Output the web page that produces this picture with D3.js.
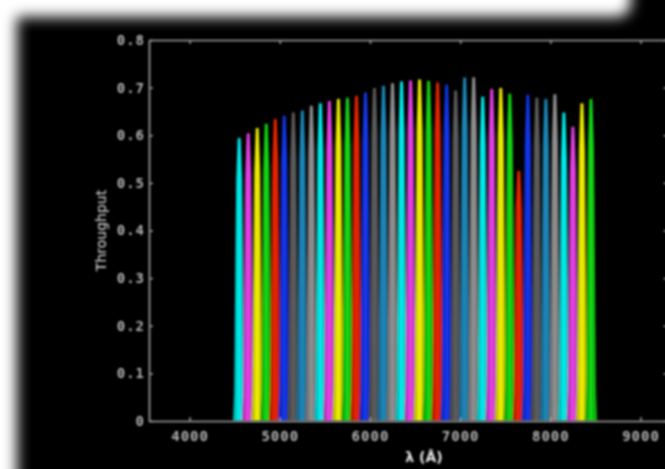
<!DOCTYPE html>
<html>
<head>
<meta charset="utf-8">
<script src="https://cdn.jsdelivr.net/npm/d3@7/dist/d3.min.js"></script>
<style>
  html, body { margin: 0; padding: 0; background: #000; }
  svg { display: block; }
</style>
</head>
<body>
<svg id="chart" width="665" height="469"></svg>
<script>
// Narrow-band filter set: central wavelengths (Å) and peak throughputs
const filterCenters = [
  4550, 4650, 4750, 4850, 4950, 5050, 5150, 5250, 5350, 5450,
  5550, 5650, 5750, 5850, 5950, 6050, 6150, 6250, 6350, 6450,
  6550, 6650, 6750, 6850, 6950, 7050, 7150, 7250, 7350, 7450,
  7550, 7650, 7750, 7850, 7950, 8050, 8150, 8250, 8350, 8450
];
const filterPeaks = [
  0.594, 0.604, 0.615, 0.624, 0.634, 0.641, 0.648, 0.652, 0.662, 0.667,
  0.672, 0.676, 0.679, 0.683, 0.690, 0.699, 0.704, 0.709, 0.713, 0.715,
  0.717, 0.714, 0.711, 0.706, 0.694, 0.721, 0.722, 0.681, 0.697, 0.699,
  0.687, 0.525, 0.685, 0.679, 0.676, 0.686, 0.648, 0.618, 0.667, 0.676
];
// Shape of a single passband: offsets from the centre (Å) and fraction of the peak
const profileOffsets   = [-70, -56, -50, -42, -34, -16, 16, 34, 42, 50, 56, 70];
const profileFractions = [0, 0.1, 0.3, 0.6, 0.85, 1, 1, 0.85, 0.6, 0.3, 0.1, 0];

const xTicks = [4000, 5000, 6000, 7000, 8000, 9000];
const yTicks = [0, 0.1, 0.2, 0.3, 0.4, 0.5, 0.6, 0.7, 0.8];

const palette = ["#00e6e6", "#e23ee2", "#eaea00", "#12d212", "#e42400",
                 "#1234e6", "#5a5a5a", "#1c84b4", "#8c8c8c"];

const svg = d3.select("#chart");
const W = 665, H = 469;

const x = d3.scaleLinear().domain([3550, 9300]).range([149, 667.6]);
const y = d3.scaleLinear().domain([0, 0.8]).range([421, 40]);

const defs = svg.append("defs");
defs.append("filter").attr("id", "soft")
  .attr("x", "-5%").attr("y", "-5%").attr("width", "110%").attr("height", "110%")
  .append("feGaussianBlur").attr("stdDeviation", 0.9);
defs.append("filter").attr("id", "softBars")
  .attr("x", "-5%").attr("y", "-5%").attr("width", "110%").attr("height", "110%")
  .append("feGaussianBlur").attr("stdDeviation", 1.1);
defs.append("filter").attr("id", "glow")
  .attr("x", "-50%").attr("y", "-50%").attr("width", "200%").attr("height", "200%")
  .append("feGaussianBlur").attr("stdDeviation", 7);

// tube-like shading: each band is brightest along its centre
palette.forEach((col, j) => {
  const g = defs.append("linearGradient").attr("id", "band" + j)
    .attr("x1", 0).attr("x2", 1).attr("y1", 0).attr("y2", 0);
  const c = d3.color(col);
  [[0, c.darker(1.0)], [0.3, c.darker(0.3)], [0.5, c.brighter(0.15)],
   [0.7, c.darker(0.3)], [1, c.darker(1.0)]].forEach(([o, s]) => {
    g.append("stop").attr("offset", o).attr("stop-color", s.formatHex());
  });
});

// black canvas
svg.append("rect").attr("width", W).attr("height", H).attr("fill", "#000");

// light window border around the top-left of the panel
const frame = svg.append("g").attr("filter", "url(#glow)");
frame.append("rect").attr("x", -60).attr("y", -60).attr("width", 60 + 631).attr("height", 60 + 17).attr("rx", 14).attr("fill", "#fff");
frame.append("rect").attr("x", -60).attr("y", -60).attr("width", 60 + 17).attr("height", 700).attr("fill", "#fff");

// filter passbands
const bars = svg.append("g").attr("filter", "url(#softBars)");
const area = d3.area()
  .x(d => x(d[0]))
  .y0(y(0))
  .y1(d => y(d[1]));
filterCenters.forEach((c, i) => {
  const pts = profileOffsets.map((o, k) => [c + o, filterPeaks[i] * profileFractions[k]]);
  bars.append("path")
    .attr("d", area(pts))
    .attr("fill", `url(#band${i % palette.length})`);
});

// axes
const axes = svg.append("g").attr("filter", "url(#soft)");
const axisColor = "#a8a8a8";
const tickFont = "'DejaVu Sans Mono', monospace";

const gx = axes.append("g").attr("transform", `translate(0,${y(0)})`)
  .call(d3.axisBottom(x).tickValues(xTicks).tickSize(-4).tickSizeOuter(0).tickPadding(10).tickFormat(d3.format("d")));
const gxt = axes.append("g").attr("transform", `translate(0,${y(0.8)})`)
  .call(d3.axisTop(x).tickValues(xTicks).tickSize(-4).tickSizeOuter(0).tickFormat(""));
const gy = axes.append("g").attr("transform", `translate(${x(3550)},0)`)
  .call(d3.axisLeft(y).tickValues(yTicks).tickSize(-4).tickSizeOuter(0).tickPadding(4)
    .tickFormat(d => d === 0 ? "0" : d.toFixed(1)));
const gyr = axes.append("g").attr("transform", `translate(${x(9300)},0)`)
  .call(d3.axisRight(y).tickValues(yTicks).tickSize(-4).tickSizeOuter(0).tickFormat(""));

[gx, gxt, gy, gyr].forEach(g => {
  g.select(".domain").attr("stroke", axisColor).attr("stroke-width", 1.6);
  g.selectAll(".tick line").attr("stroke", axisColor).attr("stroke-width", 1.4);
  g.selectAll(".tick text")
    .attr("fill", "#b4b4b4")
    .style("font-family", tickFont)
    .style("font-size", "14px")
    .style("font-weight", "bold")
    .style("letter-spacing", "1px");
});
gx.selectAll(".tick text").attr("dy", "0.71em");

// axis titles
axes.append("text")
  .attr("transform", `translate(106,${(y(0) + y(0.8)) / 2}) rotate(-90)`)
  .attr("text-anchor", "middle")
  .attr("fill", "#e0e0e0")
  .style("font-family", "'DejaVu Sans', sans-serif")
  .style("font-size", "14px")
  .text("Throughput");

axes.append("text")
  .attr("x", 424).attr("y", 462)
  .attr("text-anchor", "middle")
  .attr("fill", "#e8e8e8")
  .style("font-family", "'DejaVu Sans', sans-serif")
  .style("font-size", "14px")
  .style("font-weight", "bold")
  .text("λ (Å)");
</script>
</body>
</html>
